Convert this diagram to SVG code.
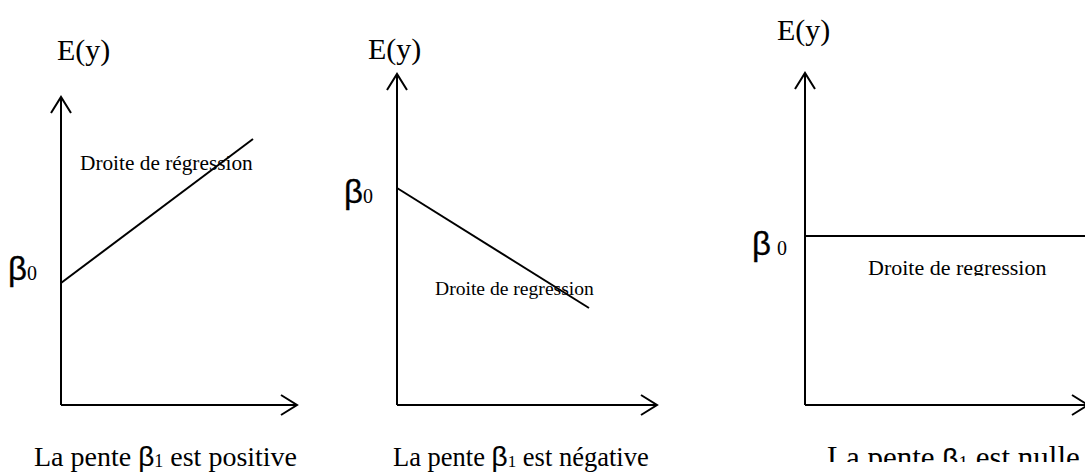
<svg xmlns="http://www.w3.org/2000/svg" width="1085" height="473" viewBox="0 0 1085 473">
<style>
.ax{stroke:#000;stroke-width:2;fill:none;marker-end:url(#arr)}
.rl{stroke:#000;stroke-width:2;fill:none}
.t{font-family:"Liberation Serif","Times New Roman",serif;fill:#000}
.ey{font-size:30px}
.b{font-family:"Liberation Sans",Arial,sans-serif}
.bl{font-size:33px;stroke:#000;stroke-width:0.3}
.bc{font-size:28px;stroke:#000;stroke-width:0.15}
.sub{font-family:"Liberation Serif","Times New Roman",serif;font-size:20px}
</style>
<defs>
<marker id="arr" markerUnits="userSpaceOnUse" markerWidth="40" markerHeight="40" viewBox="-20 -20 40 40" refX="0" refY="0" orient="auto" overflow="visible">
<path d="M-16,-10 L0,0 L-16,10" fill="none" stroke="#000" stroke-width="2"/>
</marker>
<clipPath id="c3a"><rect x="700" y="0" width="385" height="276"/></clipPath>
<clipPath id="c3b"><rect x="700" y="300" width="385" height="162"/></clipPath>
</defs>
<rect width="1085" height="473" fill="#fff"/>
<g id="connectors">
<line class="ax" x1="61" y1="405" x2="61" y2="97"/>
<line class="ax" x1="61" y1="405" x2="297" y2="405"/>
<line class="ax" x1="397" y1="405" x2="397" y2="74"/>
<line class="ax" x1="397" y1="405" x2="657" y2="405"/>
<line class="ax" x1="805" y1="405" x2="805" y2="73"/>
<line class="ax" x1="805" y1="405" x2="1088" y2="405"/>
</g>
<g id="panel1">
<text class="t ey" x="57" y="60">E(y)</text>
<line class="rl" x1="61" y1="283" x2="253" y2="139"/>
<text class="t" x="80" y="170" font-size="21.3">Droite de régression</text>
<text class="t" x="8" y="280"><tspan class="b bl">β</tspan><tspan class="sub">0</tspan></text>
<text class="t" x="34" y="466" font-size="28">La pente <tspan class="b bc">β</tspan><tspan font-size="18" dy="1">1</tspan><tspan dy="-1"> est positive</tspan></text>
</g>
<g id="panel2">
<text class="t ey" x="368" y="59">E(y)</text>
<line class="rl" x1="397" y1="188" x2="589" y2="308"/>
<text class="t" x="435" y="295" font-size="19.6">Droite de regression</text>
<text class="t" x="344" y="203"><tspan class="b bl">β</tspan><tspan class="sub">0</tspan></text>
<text class="t" x="393" y="466" font-size="26.5">La pente <tspan class="b bc">β</tspan><tspan font-size="17" dy="1">1</tspan><tspan dy="-1"> est négative</tspan></text>
</g>
<g id="panel3">
<text class="t ey" x="777" y="40">E(y)</text>
<line class="rl" x1="805" y1="236" x2="1090" y2="236"/>
<text class="t" x="868" y="275" font-size="22" clip-path="url(#c3a)">Droite de regression</text>
<text class="t" x="752" y="255"><tspan class="b bl">β</tspan><tspan class="sub" dx="6">0</tspan></text>
<text class="t" x="827" y="468" font-size="31" clip-path="url(#c3b)">La pente <tspan class="b bc" font-size="30">β</tspan><tspan font-size="19" dy="1">1</tspan><tspan dy="-1"> est nulle</tspan></text>
</g>
</svg>
